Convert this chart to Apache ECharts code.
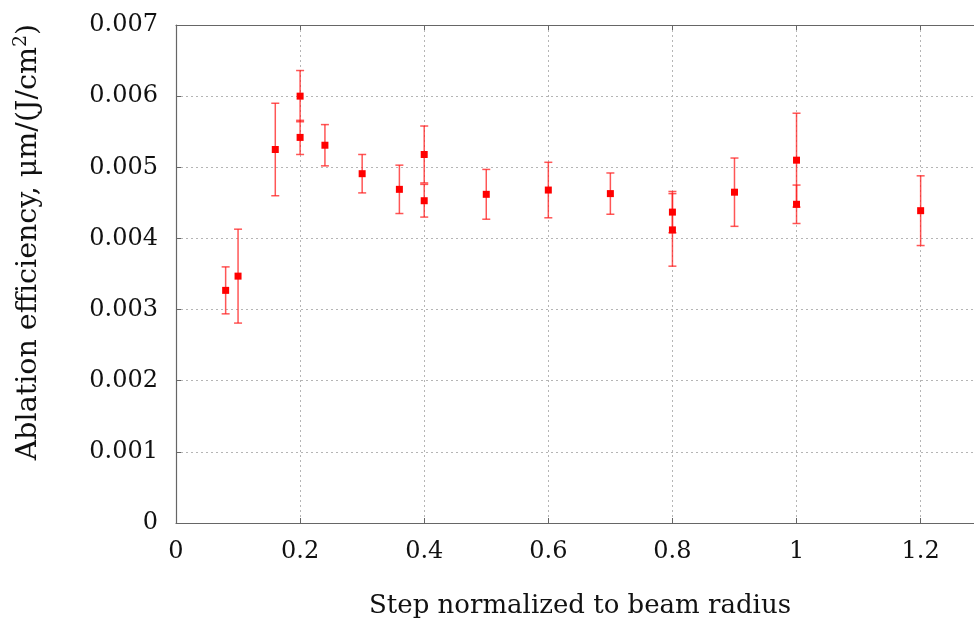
<!DOCTYPE html>
<html>
<head>
<meta charset="utf-8">
<script src="https://cdn.jsdelivr.net/npm/echarts@6/dist/echarts.min.js"></script>
<style>html,body{margin:0;padding:0;background:#fff;}#c{width:974px;height:630px;}</style>
</head>
<body>
<div id="c"></div>
<script>
// Step normalized to beam radius
const xVals = [0.08, 0.10, 0.16, 0.20, 0.20, 0.24, 0.30, 0.36, 0.40, 0.40, 0.50, 0.60, 0.70, 0.80, 0.80, 0.90, 1.00, 1.00, 1.20];
// Ablation efficiency, um/(J/cm^2)
const yVals = [0.00327, 0.00347, 0.00525, 0.00600, 0.00542, 0.00531, 0.00491, 0.00469, 0.00518, 0.00453, 0.00462, 0.00468, 0.00463, 0.00437, 0.00412, 0.00465, 0.00510, 0.00448, 0.00439];
// symmetric error (half-length)
const errVals = [0.00033, 0.00066, 0.00065, 0.00036, 0.00024, 0.00029, 0.00027, 0.00034, 0.00040, 0.00023, 0.00035, 0.00039, 0.00029, 0.00029, 0.00051, 0.00048, 0.00066, 0.00027, 0.00049];
const xTicks = [0, 0.2, 0.4, 0.6, 0.8, 1, 1.2];
const yTicks = [0, 0.001, 0.002, 0.003, 0.004, 0.005, 0.006, 0.007];

const FONT = 'DejaVu Serif';
const points = xVals.map((x, i) => [x, yVals[i]]);
const errData = xVals.map((x, i) => [x, yVals[i], errVals[i]]);

const chart = echarts.init(document.getElementById('c'), null, {renderer: 'canvas'});
const axisLineStyle = {color: '#666', width: 1.2};
const option = {
  animation: false,
  backgroundColor: '#fff',
  grid: {left: 176, top: 25, right: 0, bottom: 107, containLabel: false},
  xAxis: [{
    type: 'value', position: 'bottom', min: 0, max: 1.286, interval: 0.2,
    name: 'Step normalized to beam radius', nameLocation: 'middle', nameGap: 70,
    nameTextStyle: {fontFamily: FONT, fontSize: 26, color: '#111', padding: [0, 0, 0, 10]},
    axisLine: {show: true, lineStyle: axisLineStyle},
    axisTick: {show: true, inside: true, length: 5, lineStyle: {color: '#666'}},
    axisLabel: {fontFamily: FONT, fontSize: 24, color: '#111', margin: 17, showMaxLabel: false,
      formatter: v => { const t = xTicks.find(k => Math.abs(k - v) < 1e-6); return t === undefined ? '' : String(t); }},
    splitLine: {show: true, lineStyle: {color: '#b5b5b5', type: [2, 3], width: 1}}
  }, {
    type: 'value', position: 'top', min: 0, max: 1.286, interval: 0.2,
    axisLine: {show: true, lineStyle: axisLineStyle},
    axisTick: {show: true, inside: true, length: 5, lineStyle: {color: '#666'}},
    axisLabel: {show: false}, splitLine: {show: false}
  }],
  yAxis: [{
    type: 'value', min: 0, max: 0.007, interval: 0.001,
    name: 'Ablation efficiency, μm/(J/cm{sup|2})', nameLocation: 'middle', nameGap: 131,
    nameTextStyle: {fontFamily: FONT, fontSize: 28.5, color: '#111', padding: [0, 0, 0, 64],
      rich: {sup: {fontFamily: FONT, fontSize: 19, color: '#111', verticalAlign: 'top', padding: [0, 0, 14, 0]}}},
    axisLine: {show: true, lineStyle: axisLineStyle},
    axisTick: {show: true, inside: true, length: 5, lineStyle: {color: '#666'}},
    axisLabel: {fontFamily: FONT, fontSize: 24, color: '#111', margin: 18,
      formatter: v => { const t = yTicks.find(k => Math.abs(k - v) < 1e-9); return t === undefined ? '' : (t === 0 ? '0' : t.toFixed(3)); }},
    splitLine: {show: true, lineStyle: {color: '#b5b5b5', type: [2, 3], width: 1}}
  }],
  series: [{
    type: 'custom', name: 'error', xAxisIndex: 0, yAxisIndex: 0,
    data: errData,
    renderItem: function (params, api) {
      const x = api.value(0), y = api.value(1), e = api.value(2);
      const top = api.coord([x, y + e]);
      const bot = api.coord([x, y - e]);
      const hw = 4;
      const style = {stroke: 'rgba(255,30,30,0.75)', lineWidth: 1.5, fill: null};
      return {type: 'group', children: [
        {type: 'line', shape: {x1: top[0], y1: top[1], x2: bot[0], y2: bot[1]}, style: style},
        {type: 'line', shape: {x1: top[0] - hw, y1: top[1], x2: top[0] + hw, y2: top[1]}, style: style},
        {type: 'line', shape: {x1: bot[0] - hw, y1: bot[1], x2: bot[0] + hw, y2: bot[1]}, style: style}
      ]};
    },
    z: 2
  }, {
    type: 'scatter', name: 'data', xAxisIndex: 0, yAxisIndex: 0,
    data: points, symbol: 'rect', symbolSize: 7,
    itemStyle: {color: '#ff0000', opacity: 1},
    z: 3
  }]
};
chart.setOption(option);
</script>
</body>
</html>
